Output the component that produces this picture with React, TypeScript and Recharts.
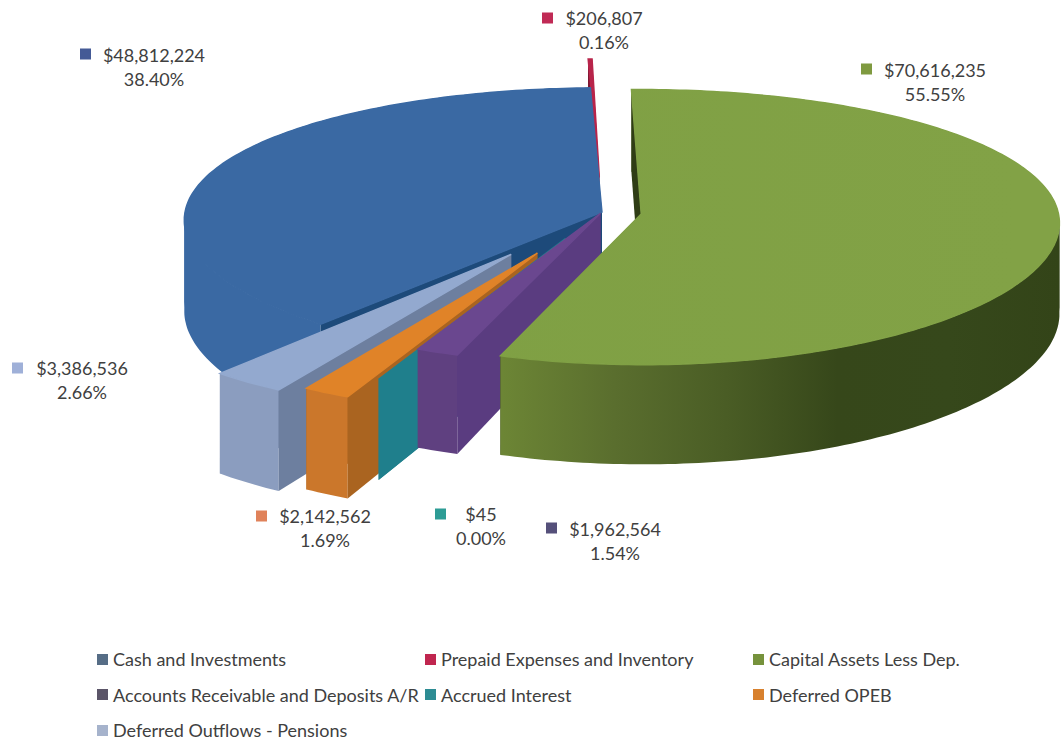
import { Legend, Pie, PieChart } from "recharts";

const categories = [
  "Cash and Investments",
  "Prepaid Expenses and Inventory",
  "Capital Assets Less Dep.",
  "Accounts Receivable and Deposits A/R",
  "Accrued Interest",
  "Deferred OPEB",
  "Deferred Outflows - Pensions",
];
const values = [48812224, 206807, 70616235, 1962564, 45, 2142562, 3386536];

// back-to-front, which is also counter-clockwise round the pie
const paintOrder = [1, 0, 6, 5, 4, 3, 2];

const WIDTH = 1063;
const HEIGHT = 750;
const CX = 602;
const CY = 212;
const RX = 417;
const RY = 136;
const DEPTH = 90;
const PERSPECTIVE_X = 0.06;
const PERSPECTIVE_Y = 0.095;
const START_ANGLE = 91.1;

type SliceStyle = {
  top: [string, string];
  rim: string[];
  rimSpan: [number, number];
  side: string;
  explode: number;
  swatch: string;
  legend: string;
  label: [number, number, number, number];
};

const STYLES: Record<string, SliceStyle> = {
  "Cash and Investments": {
    top: ["#3a69a3", "#3a69a3"],
    rim: ["#3a69a3", "#3a69a3"],
    rimSpan: [185, 1019],
    side: "#1d4a7a",
    explode: 0,
    swatch: "#445a96",
    legend: "#566d86",
    label: [80, 54, 154, 56],
  },
  "Prepaid Expenses and Inventory": {
    top: ["#b8244a", "#b8244a"],
    rim: ["#7e1530", "#7e1530"],
    rimSpan: [580, 600],
    side: "#7e1530",
    explode: 0.26,
    swatch: "#c02a55",
    legend: "#c0264f",
    label: [542, 18, 604, 19],
  },
  "Capital Assets Less Dep.": {
    top: ["#7e9f43", "#82a246"],
    rim: ["#6c8535", "#5a6e2e", "#4a5d25", "#36471a", "#36481b", "#334418"],
    rimSpan: [503, 1060],
    side: "#2f3d15",
    explode: 0.095,
    swatch: "#7f9a40",
    legend: "#76923c",
    label: [861, 69, 935, 71],
  },
  "Accounts Receivable and Deposits A/R": {
    top: ["#6a478f", "#6a478f"],
    rim: ["#5f4080", "#5f4080"],
    rimSpan: [420, 460],
    side: "#5a3c80",
    explode: 0.01,
    swatch: "#55507a",
    legend: "#5b5568",
    label: [546, 528, 615, 530],
  },
  "Accrued Interest": {
    top: ["#1f7f8c", "#1f7f8c"],
    rim: ["#1f7f8c", "#1f7f8c"],
    rimSpan: [380, 418],
    side: "#1f7f8c",
    explode: 0.21,
    swatch: "#2d9c95",
    legend: "#2d8c93",
    label: [435, 514, 481, 515],
  },
  "Deferred OPEB": {
    top: ["#e08328", "#e08328"],
    rim: ["#cb772b", "#cb772b"],
    rimSpan: [302, 347],
    side: "#aa6420",
    explode: 0.33,
    swatch: "#e0825a",
    legend: "#d8812e",
    label: [256, 516, 325, 517],
  },
  "Deferred Outflows - Pensions": {
    top: ["#93a9cf", "#93a9cf"],
    rim: ["#8b9dbf", "#8b9dbf"],
    rimSpan: [218, 280],
    side: "#6d7f9f",
    explode: 0.37,
    swatch: "#9fb0d8",
    legend: "#a6b3cc",
    label: [12, 368, 82, 369],
  },
};

const tableData = paintOrder.map((i) => ({ name: categories[i], value: values[i] }));

const rad = (deg: number) => (deg * Math.PI) / 180;

// pie-plane point to screen, with the near side drawn larger
function project(cx: number, cy: number, u: number, v: number, drop: number) {
  const wx = 1 / (1 - PERSPECTIVE_X * v);
  const wy = 1 / (1 - PERSPECTIVE_Y * v);
  return [cx + RX * u * wx, cy + RY * v * wy + drop * DEPTH * wy];
}

const toPath = (pts: number[][]) =>
  "M" + pts.map((p) => `${p[0].toFixed(1)},${p[1].toFixed(1)}`).join("L") + "Z";

// cut the rim where it turns back on itself in x, a single band would cross over and leave a hole
function monotonicRuns(pts: number[][]) {
  const runs: [number, number][] = [];
  let from = 0;
  for (let i = 1; i < pts.length - 1; i++) {
    if ((pts[i][0] - pts[i - 1][0]) * (pts[i + 1][0] - pts[i][0]) < 0) {
      runs.push([from, i]);
      from = i;
    }
  }
  runs.push([from, pts.length - 1]);
  return runs;
}

function Slice3D(props: any) {
  const { cx, cy, startAngle, endAngle, name, index } = props;
  const style = STYLES[name];
  const t0 = 90 - Math.max(startAngle, endAngle);
  const t1 = 90 - Math.min(startAngle, endAngle);
  const mid = rad((t0 + t1) / 2);
  const ou = style.explode * Math.sin(mid);
  const ov = -style.explode * Math.cos(mid);

  const steps = Math.max(1, Math.ceil(t1 - t0));
  const rimAt = (drop: number) => {
    const pts: number[][] = [];
    for (let s = 0; s <= steps; s++) {
      const t = rad(t0 + ((t1 - t0) * s) / steps);
      pts.push(project(cx, cy, ou + Math.sin(t), ov - Math.cos(t), drop));
    }
    return pts;
  };
  const rimTop = rimAt(0);
  const rimBottom = rimAt(1);
  const apexTop = project(cx, cy, ou, ov, 0);
  const apexBottom = project(cx, cy, ou, ov, 1);
  const last = rimTop.length - 1;

  const topId = `slice-top-${index}`;
  const rimId = `slice-rim-${index}`;
  return (
    <g>
      <defs>
        <linearGradient id={topId} gradientUnits="userSpaceOnUse" x1={cx - RX} x2={cx + RX} y1={0} y2={0}>
          <stop offset="0" stopColor={style.top[0]} />
          <stop offset="1" stopColor={style.top[1]} />
        </linearGradient>
        <linearGradient id={rimId} gradientUnits="userSpaceOnUse" x1={style.rimSpan[0]} x2={style.rimSpan[1]} y1={0} y2={0}>
          {style.rim.map((c, i) => (
            <stop key={i} offset={i / (style.rim.length - 1)} stopColor={c} />
          ))}
        </linearGradient>
      </defs>
      <path d={toPath([apexTop, rimTop[last], rimBottom[last], apexBottom])} fill={style.side} />
      {monotonicRuns(rimTop).map(([a, b]) => (
        <path
          key={a}
          d={toPath([...rimTop.slice(a, b + 1), ...rimBottom.slice(a, b + 1).reverse()])}
          fill={`url(#${rimId})`}
        />
      ))}
      <path d={toPath([apexTop, rimTop[0], rimBottom[0], apexBottom])} fill={style.side} />
      <path
        d={toPath([apexTop, ...rimTop])}
        fill={`url(#${topId})`}
        stroke={`url(#${topId})`}
        strokeWidth={1.4}
      />
    </g>
  );
}

function SliceLabel(props: any) {
  const { name, value, percent } = props;
  const [sx, sy, tx, ty] = STYLES[name].label;
  return (
    <g fontFamily="Lato, sans-serif" fontSize={18} fill="#404040" textAnchor="middle">
      <rect x={sx} y={sy - 5.5} width={11} height={11} fill={STYLES[name].swatch} />
      <text x={tx} y={ty + 6}>{`$${value.toLocaleString("en-US")}`}</text>
      <text x={tx} y={ty + 30}>{`${(percent * 100).toFixed(2)}%`}</text>
    </g>
  );
}

function LegendGrid() {
  return (
    <div
      style={{
        display: "grid",
        gridTemplateColumns: "328px 328px 300px",
        gridAutoRows: "35.5px",
        fontFamily: "Lato, sans-serif",
        fontSize: 18,
        color: "#404040",
        whiteSpace: "nowrap",
      }}
    >
      {categories.map((c) => (
        <div key={c} style={{ display: "flex", alignItems: "center", height: 24 }}>
          <span style={{ width: 11, height: 11, marginRight: 5, background: STYLES[c].legend }} />
          {c}
        </div>
      ))}
    </div>
  );
}

export default function App() {
  return (
    <div style={{ position: "absolute", left: 0, top: 0, width: WIDTH, height: HEIGHT, background: "#fff" }}>
      <PieChart width={WIDTH} height={HEIGHT} margin={{ top: 0, right: 0, bottom: 0, left: 0 }}>
        <Pie
          data={tableData}
          dataKey="value"
          nameKey="name"
          cx={CX}
          cy={CY}
          outerRadius={RX}
          startAngle={START_ANGLE}
          endAngle={START_ANGLE + 360}
          stroke="none"
          shape={<Slice3D />}
          label={<SliceLabel />}
          labelLine={false}
          isAnimationActive={false}
        />
        <Legend
          content={<LegendGrid />}
          wrapperStyle={{ position: "absolute", left: 97, top: 647, width: 960, height: 100 }}
        />
      </PieChart>
    </div>
  );
}
